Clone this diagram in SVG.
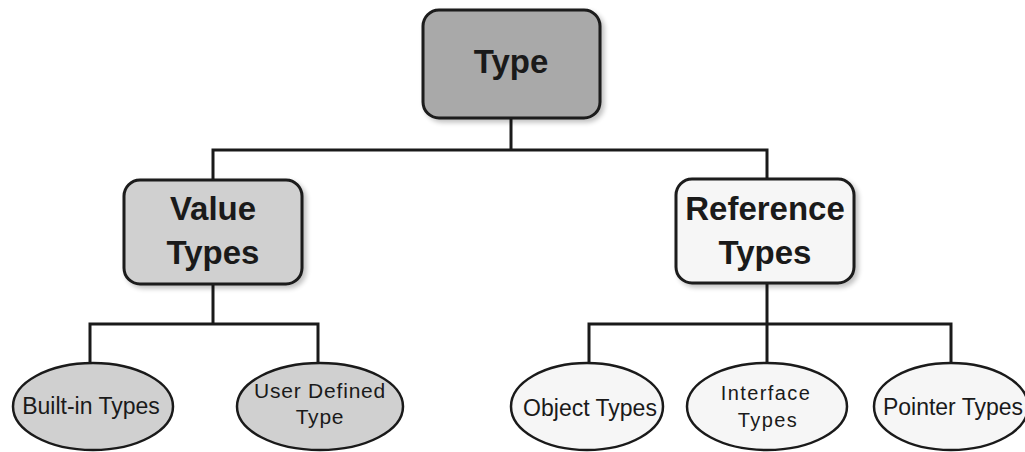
<svg xmlns="http://www.w3.org/2000/svg" width="1025" height="452" viewBox="0 0 1025 452">
  <defs>
    <filter id="sh" x="-10%" y="-10%" width="125%" height="130%">
      <feGaussianBlur in="SourceAlpha" stdDeviation="2.5"/>
      <feOffset dx="3" dy="3" result="b"/>
      <feComponentTransfer><feFuncA type="linear" slope="0.25"/></feComponentTransfer>
      <feMerge><feMergeNode/><feMergeNode in="SourceGraphic"/></feMerge>
    </filter>
  </defs>
  <style>
    .box { stroke: #1a1a1a; stroke-width: 3; }
    .ell { stroke: #1a1a1a; stroke-width: 2.5; }
    .conn { fill: none; stroke: #1a1a1a; stroke-width: 3; stroke-linecap: square; }
    .big { font-family: "Liberation Sans", Arial, sans-serif; font-size: 33px; font-weight: bold; fill: #1a1a1a; text-anchor: middle; }
    .sm { font-family: "Liberation Sans", Arial, sans-serif; font-size: 23px; fill: #1a1a1a; text-anchor: middle; }
    .xs { font-family: "Liberation Sans", Arial, sans-serif; font-size: 20px; fill: #1a1a1a; text-anchor: middle; }
    .dark { fill: #a9a9a9; }
    .mid { fill: #d0d0d0; }
    .light { fill: #f6f6f6; }
  </style>
  <rect width="1025" height="452" fill="#ffffff"/>
  <g id="connectors">
    <path class="conn" d="M511,117 V150 M213,150 H767 M213,150 V180 M767,150 V179"/>
    <path class="conn" d="M213,284 V324 M90,324 H318 M90,324 V363 M318,324 V363"/>
    <path class="conn" d="M767,283 V324 M589,324 H951 M589,324 V363 M767,324 V363 M951,324 V363"/>
  </g>
  <g id="node-type">
    <rect class="box dark" x="423" y="10" width="177" height="108" rx="16" filter="url(#sh)"/>
    <text class="big" x="511" y="73">Type</text>
  </g>
  <g id="node-value-types">
    <rect class="box mid" x="124" y="180" width="178" height="104" rx="16" filter="url(#sh)"/>
    <text class="big" x="213" y="220">Value</text>
    <text class="big" x="213" y="264">Types</text>
  </g>
  <g id="node-reference-types">
    <rect class="box light" x="676" y="179" width="178" height="104" rx="16" filter="url(#sh)"/>
    <text class="big" x="765" y="220">Reference</text>
    <text class="big" x="765" y="264">Types</text>
  </g>
  <g id="node-builtin">
    <ellipse class="ell mid" cx="93" cy="406.5" rx="80" ry="43.5"/>
    <text class="sm" x="91" y="414">Built-in Types</text>
  </g>
  <g id="node-user-defined">
    <ellipse class="ell mid" cx="320" cy="406.5" rx="83" ry="43.5"/>
    <text class="xs" x="320" y="398" style="font-size:21px;letter-spacing:0.8px">User Defined</text>
    <text class="xs" x="320" y="424" style="font-size:21px;letter-spacing:0.8px">Type</text>
  </g>
  <g id="node-object">
    <ellipse class="ell light" cx="587" cy="406.5" rx="76" ry="43.5"/>
    <text class="sm" x="590" y="416">Object Types</text>
  </g>
  <g id="node-interface">
    <ellipse class="ell light" cx="767" cy="406.5" rx="80" ry="43.5"/>
    <text class="xs" x="766" y="400" style="letter-spacing:1.4px">Interface</text>
    <text class="xs" x="768" y="427" style="letter-spacing:1.4px">Types</text>
  </g>
  <g id="node-pointer">
    <ellipse class="ell light" cx="951" cy="406.5" rx="77" ry="43.5"/>
    <text class="sm" x="953" y="415">Pointer Types</text>
  </g>
</svg>
